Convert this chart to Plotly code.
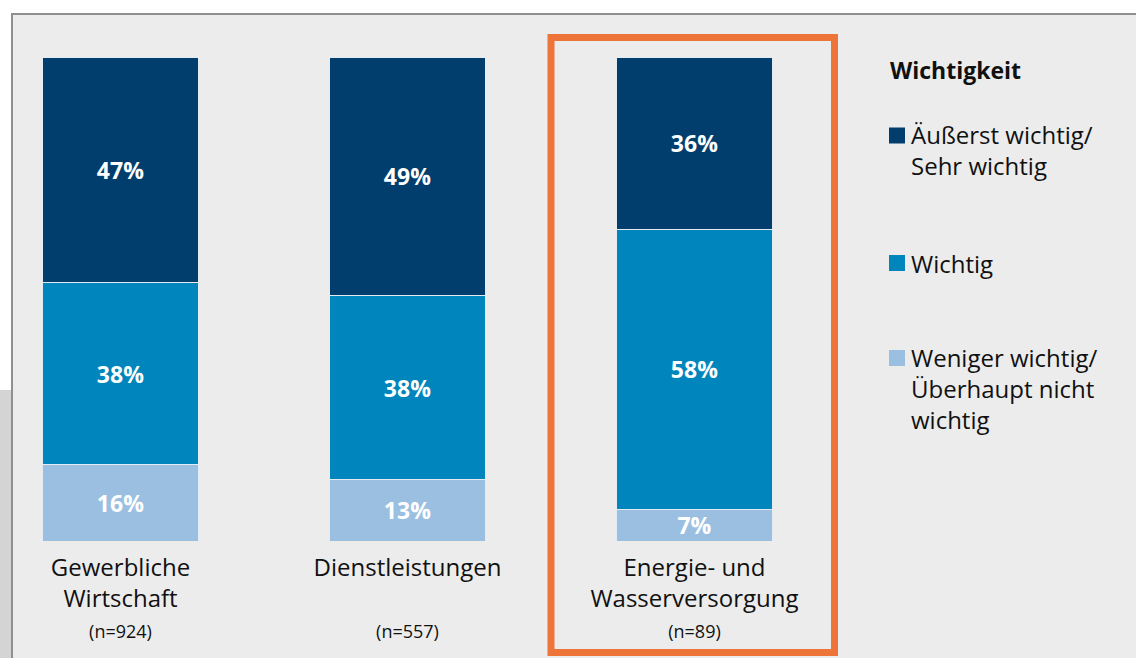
import plotly.graph_objects as go

categories = ["Gewerbliche<br>Wirtschaft", "Dienstleistungen<br> ", "Energie- und<br>Wasserversorgung"]
sample_sizes = ["(n=924)", "(n=557)", "(n=89)"]
legend_title = "Wichtigkeit"
series_names = ["Weniger wichtig/<br>Überhaupt nicht<br>wichtig", "Wichtig", "Äußerst wichtig/<br>Sehr wichtig"]
weniger = [15.8, 12.7, 6.6]
wichtig = [37.6, 38.0, 57.8]
aeusserst = [46.6, 49.3, 35.6]
labels_weniger = [16, 13, 7]
labels_wichtig = [38, 38, 58]
labels_aeusserst = [47, 49, 36]
colors = ["#9bbfe0", "#0085bc", "#023e6d"]

FONT = "Open Sans"
W, H = 1136, 658
L, R, T, B = 12, 276, 57, 117
pw, ph = W - L - R, H - T - B

def px_x(p):
    return (p - L) / pw

def px_y(p):
    return (H - B - p) / ph

x = [0, 1, 2]
ticktext = [f"{c}<br><span style='font-size:18px'>{n}</span>" for c, n in zip(categories, sample_sizes)]

fig = go.Figure()
series = [(weniger, labels_weniger), (wichtig, labels_wichtig), (aeusserst, labels_aeusserst)]
for (vals, labs), name, col in zip(series, series_names, colors):
    fig.add_trace(go.Bar(
        x=x, y=vals, name=name, width=0.547,
        marker=dict(color=col, line=dict(color="#e4ebf2", width=1)),
        text=[f"{v}%" for v in labs], textposition="inside", insidetextanchor="middle",
        textfont=dict(family=FONT, size=23, color="white", weight="bold"),
        textangle=0, cliponaxis=False, hoverinfo="skip", showlegend=False,
    ))

fig.update_layout(
    barmode="stack",
    width=W, height=H,
    margin=dict(l=L, r=R, t=T, b=B, pad=0),
    paper_bgcolor="white",
    plot_bgcolor="rgba(0,0,0,0)",
    font=dict(family=FONT, size=24, color="#111111"),
    showlegend=False,
    uniformtext=dict(mode="show", minsize=23),
    xaxis=dict(
        range=[(L - 120.5) / 287, (W - R - 120.5) / 287],
        tickmode="array", tickvals=x, ticktext=ticktext,
        showgrid=False, zeroline=False, showline=False, ticks="",
        tickfont=dict(family=FONT, size=24, color="#111111"),
        ticklabelstandoff=10,
        fixedrange=True,
    ),
    yaxis=dict(range=[0, 100], visible=False, fixedrange=True),
)

# background panel with grey border
fig.add_shape(type="rect", xref="paper", yref="paper", layer="below",
              x0=px_x(12), x1=px_x(1145), y0=px_y(670), y1=px_y(14),
              fillcolor="#ececec", line=dict(color="#8f8f8f", width=2))
# left grey strip
fig.add_shape(type="rect", xref="paper", yref="paper", layer="below",
              x0=px_x(-2), x1=px_x(11), y0=px_y(670), y1=px_y(390),
              fillcolor="#d4d4d4", line=dict(width=0))
# orange highlight frame
fig.add_shape(type="rect", xref="paper", yref="paper", layer="above",
              x0=px_x(551), x1=px_x(834.5), y0=px_y(652.5), y1=px_y(37.5),
              fillcolor="rgba(0,0,0,0)", line=dict(color="#ee753a", width=7))

# legend drawn as annotations + squares
fig.add_annotation(xref="paper", yref="paper", x=px_x(888), y=px_y(70),
                   xanchor="left", yanchor="middle", showarrow=False,
                   text=f"<b>{legend_title}</b>",
                   font=dict(family=FONT, size=23, color="#111111"))
legend_centers = [389, 263, 150]
legend_square = [358, 263, 135.5]
for name, col, cy, sy in zip(series_names, colors, legend_centers, legend_square):
    fig.add_shape(type="rect", xref="paper", yref="paper", layer="above",
                  x0=px_x(889), x1=px_x(905), y0=px_y(sy + 8), y1=px_y(sy - 8),
                  fillcolor=col, line=dict(width=0))
    fig.add_annotation(xref="paper", yref="paper", x=px_x(909), y=px_y(cy),
                       xanchor="left", yanchor="middle", align="left", showarrow=False,
                       text=name, font=dict(family=FONT, size=24, color="#111111"))

fig.write_html("out.html", config={"displayModeBar": False},
               post_script="document.body.style.margin='0';")
